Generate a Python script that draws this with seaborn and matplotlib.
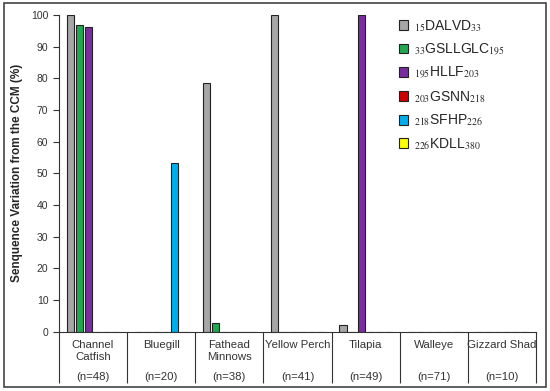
import matplotlib
matplotlib.use("Agg")
import matplotlib.pyplot as plt
import matplotlib.transforms as mtransforms
from matplotlib.patches import Rectangle
import pandas as pd
import seaborn as sns

fish = ["Channel\nCatfish", "Bluegill", "Fathead\nMinnows", "Yellow Perch",
        "Tilapia", "Walleye", "Gizzard Shad"]
sample_sizes = ["(n=48)", "(n=20)", "(n=38)", "(n=41)", "(n=49)", "(n=71)", "(n=10)"]

segments = [r"$_{15}$DALVD$_{33}$", r"$_{33}$GSLLGLC$_{195}$", r"$_{195}$HLLF$_{203}$",
            r"$_{203}$GSNN$_{218}$", r"$_{218}$SFHP$_{226}$", r"$_{226}$KDLL$_{380}$"]
colors = ["#A6A6A6", "#1FA84F", "#7A2DA0", "#D00000", "#00AEEF", "#FFFF00"]

# % variation per segment, one list per fish (same order as segments)
dalvd = [100, 0, 78.5, 100, 2.0, 0, 0]
gsllglc = [96.8, 0, 2.6, 0, 0, 0, 0]
hllf = [96.2, 0, 0, 0, 100, 0, 0]
gsnn = [0, 0, 0, 0, 0, 0, 0]
sfhp = [0, 53.3, 0, 0, 0, 0, 0]
kdll = [0, 0, 0, 0, 0, 0, 0]

rows = []
for seg, vals in zip(segments, [dalvd, gsllglc, hllf, gsnn, sfhp, kdll]):
    for f, v in zip(fish, vals):
        rows.append({"fish": f, "segment": seg, "value": v})
df = pd.DataFrame(rows)

sns.set_style("white")
plt.rcParams["font.family"] = ["Liberation Sans", "DejaVu Sans"]
plt.rcParams["mathtext.fontset"] = "stix"

fig = plt.figure(figsize=(5.5, 3.91), dpi=100)
ax = fig.add_axes([0.107, 0.152, 0.868, 0.810])

sns.barplot(data=df, x="fish", y="value", hue="segment", order=fish,
            hue_order=segments, palette=colors, saturation=1, width=0.8, gap=0.2,
            edgecolor="#222222", linewidth=0.8, errorbar=None, ax=ax)

ax.set_ylim(0, 100)
ax.set_xlim(-0.5, len(fish) - 0.5)
ax.set_yticks(range(0, 101, 10))
ax.tick_params(axis="y", direction="out", length=4, width=0.8, labelsize=7.5,
               left=True, color="#333333", labelcolor="#333333")
ax.set_ylabel("Senquence Variation from the CCM (%)", fontsize=8.5,
              fontweight="bold", labelpad=6)
ax.set_xlabel("")

# table-like category axis
ax.set_xticks(range(len(fish)))
ax.set_xticklabels([])
ax.tick_params(axis="x", which="major", length=0)
ax.set_xticks([i - 0.5 for i in range(len(fish) + 1)], minor=True)
ax.tick_params(axis="x", which="minor", direction="out", length=37, width=0.8,
               color="#333333", bottom=True)

trans = mtransforms.blended_transform_factory(ax.transData, ax.transAxes)
for i, (name, n) in enumerate(zip(fish, sample_sizes)):
    ax.text(i, -0.027, name, transform=trans, ha="center", va="top",
            fontsize=8.2, color="#333333", linespacing=1.2)
    ax.text(i, -0.142, n, transform=trans, ha="center", va="center",
            fontsize=8.2, color="#333333")

for side in ["top", "right"]:
    ax.spines[side].set_visible(False)
for side in ["left", "bottom"]:
    ax.spines[side].set_color("#333333")
    ax.spines[side].set_linewidth(0.8)

handles, labels = ax.get_legend_handles_labels()
ax.legend(handles, labels, loc="upper left", bbox_to_anchor=(0.712, 0.99),
          frameon=False, fontsize=10, handlelength=0.7, handleheight=0.7,
          handletextpad=0.4, labelspacing=0.55, borderaxespad=0, borderpad=0)

fig.patches.append(Rectangle((0.008, 0.01), 0.985, 0.982, transform=fig.transFigure,
                             fill=False, edgecolor="#444444", linewidth=1.2))

fig.savefig("out.png", dpi=100)
